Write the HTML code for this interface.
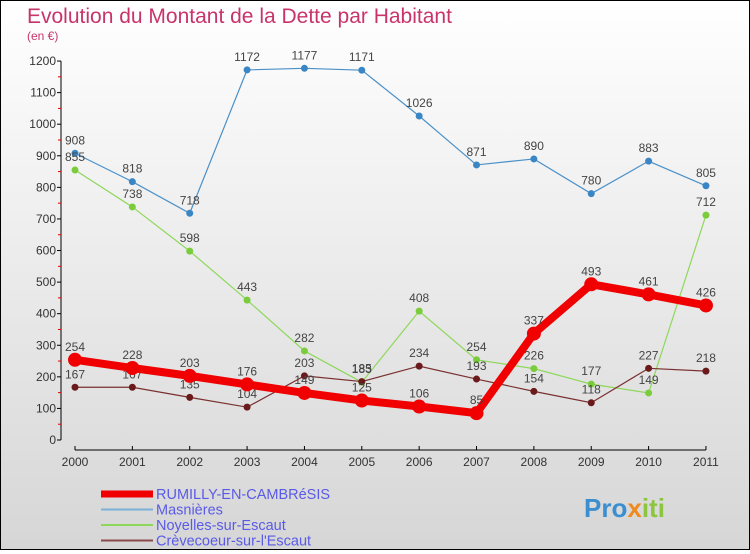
<!DOCTYPE html>
<html><head><meta charset="utf-8"><style>
body{margin:0;width:750px;height:550px;overflow:hidden;font-family:"Liberation Sans",sans-serif}
#wrap{position:relative;width:748px;height:548px;border:1px solid #000;background:linear-gradient(#fff,#d6d6d6)}
</style></head><body>
<div id="wrap">
<svg id="chart" width="748" height="548">
<text x="26" y="22" font-size="21" fill="#c8346a">Evolution du Montant de la Dette par Habitant</text>
<text x="26" y="39" font-size="12" fill="#c8346a">(en €)</text>
<g id="axes"></g><g id="series"></g><g id="legend"></g>
<text x="583" y="516" font-size="26" font-weight="bold" fill="#3b8fd0">Pro<tspan fill="#f08a1e">x</tspan><tspan fill="#8cc63f">iti</tspan></text>
</svg></div>
<script>
const years=[2000,2001,2002,2003,2004,2005,2006,2007,2008,2009,2010,2011];
const rumilly=[254,228,203,176,149,125,106,85,337,493,461,426];
const masnieres=[908,818,718,1172,1177,1171,1026,871,890,780,883,805];
const noyelles=[855,738,598,443,282,183,408,254,226,177,149,712];
const crevecoeur=[167,167,135,104,203,185,234,193,154,118,227,218];
const yTicks=[0,100,200,300,400,500,600,700,800,900,1000,1100,1200];
const NS='http://www.w3.org/2000/svg';
const xs=i=>74+i*57.36;
const ys=v=>439-v*0.3158;
function mk(t,a,p){const e=document.createElementNS(NS,t);for(const k in a)e.setAttribute(k,a[k]);p.appendChild(e);return e;}
const ax=document.getElementById('axes');
let yl=mk('line',{x1:60,y1:ys(0),x2:60,y2:ys(1200),stroke:'#000'},ax);


let xl=mk('line',{x1:74,y1:449,x2:xs(11),y2:449,stroke:'#000'},ax);


yTicks.forEach(v=>{
 mk('line',{x1:56,x2:60,y1:ys(v),y2:ys(v),stroke:'#000'},ax);
 if(v<1200)mk('line',{x1:57,x2:60,y1:ys(v+50),y2:ys(v+50),stroke:'#d00'},ax);
 const t=mk('text',{x:55,y:ys(v)+4,'font-size':12,'text-anchor':'end',fill:'#333'},ax);t.textContent=v;
 
 
});
years.forEach((y,i)=>{
 mk('line',{x1:xs(i),x2:xs(i),y1:445,y2:449,stroke:'#000'},ax);
 const t=mk('text',{x:xs(i),y:465,'font-size':12,'text-anchor':'middle',fill:'#333'},ax);t.textContent=y;
 
 
});
const sg=document.getElementById('series');
const defs=[
 {d:masnieres,c:'#4a90c8',w:1.2,r:3.5,n:'masnieres',dot:'#3a86c4'},
 {d:noyelles,c:'#8ed85a',w:1.2,r:3.5,n:'noyelles',dot:'#7acc3c'},
 {d:crevecoeur,c:'#7a3030',w:1.2,r:3.5,n:'crevecoeur',dot:'#6a1a1a'},
 {d:rumilly,c:'#f00000',w:8,r:7,n:'rumilly',dot:'#f00000'}];
defs.forEach(s=>{
 const g=mk('g',{},sg);
 
 
 const p=mk('polyline',{points:s.d.map((v,i)=>xs(i)+','+ys(v)).join(' '),fill:'none',stroke:s.c,'stroke-width':s.w},g);
 
 
 s.d.forEach((v,i)=>{
  const c=mk('circle',{cx:xs(i),cy:ys(v),r:s.r,fill:s.dot},g);
  
  
  const t=mk('text',{x:xs(i),y:ys(v)-9,'font-size':12,'text-anchor':'middle',fill:'#444'},g);t.textContent=v;
  
  
 });
});
const lg=document.getElementById('legend');
[['RUMILLY-EN-CAMBRéSIS','#f00000',7],['Masnières','#7ab0d8',2],['Noyelles-sur-Escaut','#8ed85a',2],['Crèvecoeur-sur-l\'Escaut','#8a4a4a',2]].forEach((e,i)=>{
 const y=493+i*15.5;
 const l=mk('line',{x1:100,x2:152,y1:y,y2:y,stroke:e[1],'stroke-width':e[2]},lg);
 
 
 const t=mk('text',{x:155,y:y+5,'font-size':14.5,fill:'#5a5ae8'},lg);t.textContent=e[0];
 
 
});
</script></body></html>
